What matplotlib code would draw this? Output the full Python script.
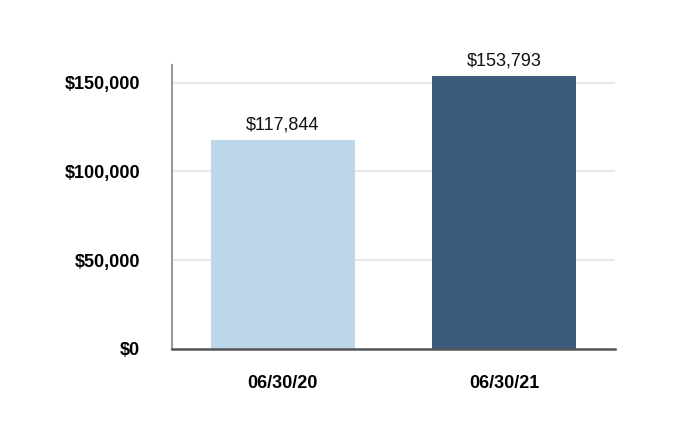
import matplotlib.pyplot as plt

# --- data ---
categories = ['06/30/20', '06/30/21']
values = [117844, 153793]
colors = ['#BCD6EA', '#3C5C7B']
yticks = [0, 50000, 100000, 150000]

plt.rcParams['font.family'] = ['Liberation Sans', 'DejaVu Sans']

fig = plt.figure(figsize=(6.8, 4.48), dpi=100)
ax = fig.add_axes([0.253, 0.221, 0.651, 0.634])

x = range(len(categories))
bars = ax.bar(x, values, width=0.65, color=colors, zorder=2)

for b, v in zip(bars, values):
    ax.text(b.get_x() + b.get_width() / 2, v + 3800, f'${v:,}',
            ha='center', va='bottom', fontsize=13, color='#111111')

ax.set_xlim(-0.5, 1.5)
ax.set_ylim(0, 160000)
ax.set_yticks(yticks)
ax.set_yticklabels([f'${t:,}' for t in yticks], fontsize=13, fontweight='bold')
ax.set_xticks(list(x))
ax.set_xticklabels(categories, fontsize=13, fontweight='bold')
ax.tick_params(axis='both', length=0)
ax.tick_params(axis='y', pad=23)
ax.tick_params(axis='x', pad=19)

ax.yaxis.grid(True, color='#E3E3E3', linewidth=1.2, zorder=0)
ax.set_axisbelow(True)

for s in ['top', 'right']:
    ax.spines[s].set_visible(False)
ax.spines['left'].set_color('#999999')
ax.spines['left'].set_linewidth(1.5)
ax.spines['bottom'].set_color('#555555')
ax.spines['bottom'].set_linewidth(1.8)

fig.savefig('out.png', dpi=100)
